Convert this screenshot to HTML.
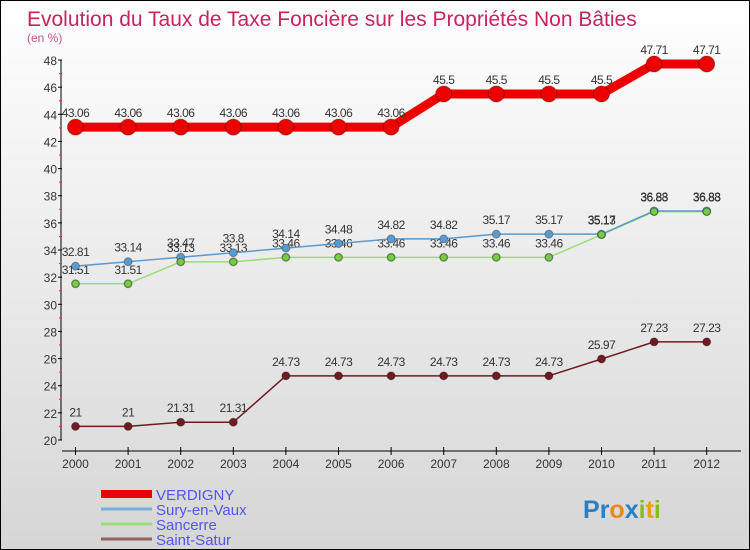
<!DOCTYPE html>
<html><head><meta charset="utf-8"><style>
body{margin:0}
#c{width:748px;height:548px;border:1px solid #000;background:linear-gradient(#fff,#d6d6d6);position:relative;font-family:"Liberation Sans",sans-serif;overflow:hidden}
</style></head><body>
<div id="c">
<svg id="s" width="748" height="548"></svg>
</div>
<script>
const years=["2000","2001","2002","2003","2004","2005","2006","2007","2008","2009","2010","2011","2012"];
const verdigny=[43.06,43.06,43.06,43.06,43.06,43.06,43.06,45.5,45.5,45.5,45.5,47.71,47.71];
const sury=[32.81,33.14,33.47,33.8,34.14,34.48,34.82,34.82,35.17,35.17,35.17,36.88,36.88];
const sancerre=[31.51,31.51,33.13,33.13,33.46,33.46,33.46,33.46,33.46,33.46,35.13,36.83,36.83];
const satur=[21,21,21.31,21.31,24.73,24.73,24.73,24.73,24.73,24.73,25.97,27.23,27.23];
const yTicks=[20,22,24,26,28,30,32,34,36,38,40,42,44,46,48];
const seriesNames=["VERDIGNY","Sury-en-Vaux","Sancerre","Saint-Satur"];
const NS="http://www.w3.org/2000/svg";
const s=document.getElementById('s');
const X=i=>74.5+52.6*i;
const Y=v=>439-(v-20)*13.57;
function el(t,a,txt){const e=document.createElementNS(NS,t);for(const k in a)e.setAttribute(k,a[k]);if(txt!==undefined)e.textContent=txt;s.appendChild(e);return e;}
let e;
e=el('text',{x:26,y:25,'font-size':21,fill:'#c8245a'},'Evolution du Taux de Taxe Foncière sur les Propriétés Non Bâties');

e=el('text',{x:26,y:41,'font-size':12,fill:'#c8548a'},'(en %)');

e=el('line',{x1:60,y1:59,x2:60,y2:439,stroke:'#000'});

yTicks.forEach((v,i)=>{
 let t=el('line',{x1:57,x2:61,y1:Y(v),y2:Y(v),stroke:'#000'});
 
 let m=el('line',{x1:58,x2:61,y1:Y(v+1),y2:Y(v+1),stroke:'#e33'});
 if(v===48)m.remove();
 let l=el('text',{x:56,y:Y(v)+5,'font-size':12,fill:'#333','text-anchor':'end'},v);
 
});
e=el('line',{x1:61,y1:450,x2:740,y2:450,stroke:'#000'});

years.forEach((y,i)=>{
 let t=el('line',{x1:X(i),x2:X(i),y1:446,y2:454,stroke:'#000'});
 
 let l=el('text',{x:X(i),y:467,'font-size':12,fill:'#333','text-anchor':'middle'},y);
 
});
function series(data,color,w,r,name,labels){
 let p=el('polyline',{points:data.map((v,i)=>X(i)+','+Y(v)).join(' '),fill:'none',stroke:color,'stroke-width':w,'stroke-linejoin':'round'});
 
 data.forEach((v,i)=>{
  let c=el('circle',{cx:X(i),cy:Y(v),r:r,fill:color,stroke:'rgba(0,0,0,0.3)','stroke-width':1});
  
  if(labels){let t=el('text',{x:X(i),y:Y(v)-10,'font-size':12,fill:'#333','text-anchor':'middle','letter-spacing':'-0.5'},v);
  }
 });
}
series(satur,'#6e1c22',1.5,4,'saint-satur',true);
series(sancerre,'#99dd77',1.5,4,'sancerre',true);
series(sury,'#5a9acc',1.5,4,'sury-en-vaux',true);
s.lastChild;
series(sancerre.map(v=>v),'#77cc44',0,3.5,'sancerre-marker',false);
series(verdigny,'#ee0000',9,8,'verdigny',true);
const lc=['#ee0000','#7aaed4','#99dd77','#956060'],lw=[8,3,3,3];
seriesNames.forEach((n,i)=>{
 let yy=493+15*i;
 let l=el('line',{x1:100,x2:151,y1:yy,y2:yy,stroke:lc[i],'stroke-width':lw[i]});
 
 let t=el('text',{x:155,y:yy+6,'font-size':15,fill:'#5555ee'},n);
 
});
const logo=[['P','#2a80c0'],['r','#2a80c0'],['o','#e88a10'],['x','#2a80c0'],['i','#88bb22'],['t','#e8a010'],['i','#88bb22']];
let g=el('text',{x:582,y:517,'font-size':25,'font-weight':'bold'});

logo.forEach(([ch,c])=>{const t=document.createElementNS(NS,'tspan');t.setAttribute('fill',c);t.textContent=ch;g.appendChild(t);});
</script>
</body></html>
